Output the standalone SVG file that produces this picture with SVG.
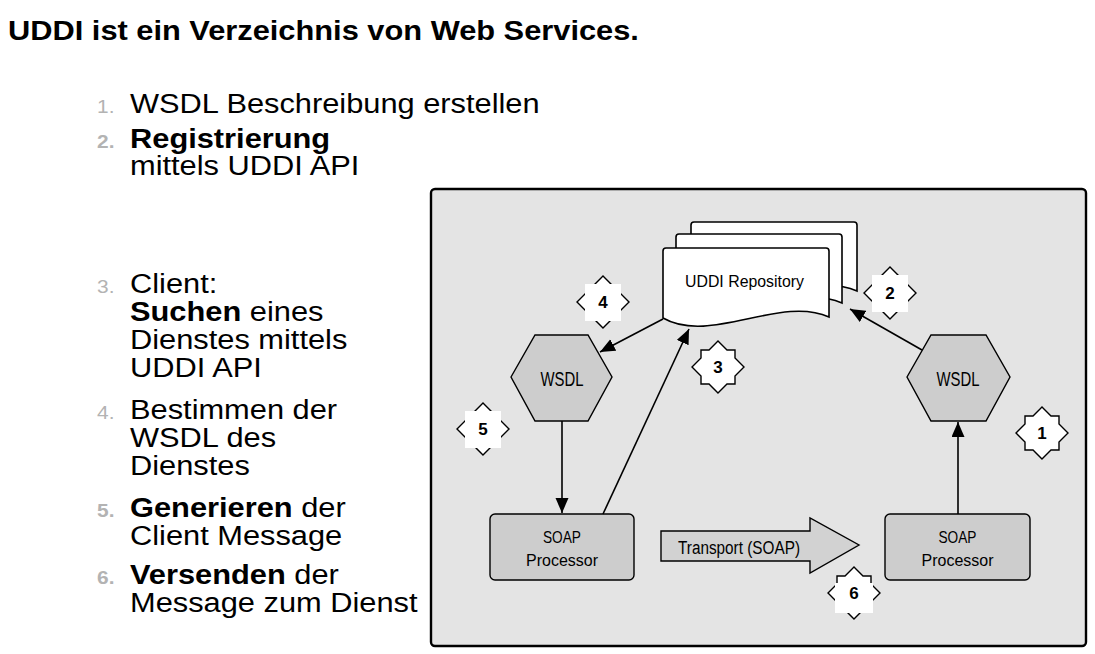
<svg xmlns="http://www.w3.org/2000/svg" xmlns:xlink="http://www.w3.org/1999/xlink" width="1095" height="654" viewBox="0 0 1095 654">
  <style>
    .txt { font-family: "Liberation Sans", Arial, sans-serif; font-size: 28px; fill: #000; }
    .b { font-weight: bold; }
    .num { font-family: "Liberation Sans", Arial, sans-serif; font-size: 19px; fill: #b3b3b3; }
    .dg { font-family: "Liberation Sans", Arial, sans-serif; fill: #000; text-anchor: middle; }
    .ln { stroke: #000; stroke-width: 1.6; fill: none; }
    .shape { fill: #cdcdcd; stroke: #000; stroke-width: 1.4; }
    .doc { fill: #fff; stroke: #000; stroke-width: 1.6; }
    .star { fill: #fff; stroke: #000; stroke-width: 1.4; }
    .starnum { font-family: "Liberation Sans", Arial, sans-serif; font-size: 17px; font-weight: bold; text-anchor: middle; fill: #000; }
  </style>
  <defs>
    <marker id="ah" markerUnits="userSpaceOnUse" markerWidth="16" markerHeight="14" refX="15" refY="6.5" orient="auto">
      <path d="M0,0 L15,6.5 L0,13 Z" fill="#000"/>
    </marker>
    <path id="starp" d="M0,-26 L9,-17 L17,-17 L17,-9 L26,0 L17,9 L17,17 L9,17 L0,26 L-9,17 L-17,17 L-17,9 L-26,0 L-17,-9 L-17,-17 L-9,-17 Z"/>
    <path id="docp" d="M663,318 L663,251 Q663,248 666,248 L826,248 Q829,248 829,251 L829,317 C780,295 710,345 663,318 Z"/>
  </defs>

  <rect width="1095" height="654" fill="#fff"/>

  <!-- left text -->
  <g id="text" transform="scale(1.1,1)">
    <text class="txt b" x="7.3" y="40">UDDI ist ein Verzeichnis von Web Services.</text>

    <text class="num" x="88.2" y="113">1.</text>
    <text class="txt" x="118.2" y="113">WSDL Beschreibung erstellen</text>

    <text class="num b" x="88.2" y="148">2.</text>
    <text class="txt" x="118.2" y="148"><tspan class="b">Registrierung</tspan></text>
    <text class="txt" x="118.2" y="175">mittels UDDI API</text>

    <text class="num" x="88.2" y="293">3.</text>
    <text class="txt" x="118.2" y="293">Client:</text>
    <text class="txt" x="118.2" y="321"><tspan class="b">Suchen</tspan> eines</text>
    <text class="txt" x="118.2" y="349">Dienstes mittels</text>
    <text class="txt" x="118.2" y="377">UDDI API</text>

    <text class="num" x="88.2" y="419">4.</text>
    <text class="txt" x="118.2" y="419">Bestimmen der</text>
    <text class="txt" x="118.2" y="447">WSDL des</text>
    <text class="txt" x="118.2" y="475">Dienstes</text>

    <text class="num b" x="88.2" y="517">5.</text>
    <text class="txt" x="118.2" y="517"><tspan class="b">Generieren</tspan> der</text>
    <text class="txt" x="118.2" y="545">Client Message</text>

    <text class="num b" x="88.2" y="584">6.</text>
    <text class="txt" x="118.2" y="584"><tspan class="b">Versenden</tspan> der</text>
    <text class="txt" x="118.2" y="612">Message zum Dienst</text>
  </g>

  <!-- frame -->
  <rect id="frame" x="431" y="189" width="655" height="457" rx="4" fill="#e4e4e4" stroke="#000" stroke-width="2.4"/>

  <!-- UDDI repository -->
  <g id="repo">
    <use xlink:href="#docp" href="#docp" class="doc" transform="translate(28,-26)"/>
    <use xlink:href="#docp" href="#docp" class="doc" transform="translate(13,-14)"/>
    <use xlink:href="#docp" href="#docp" class="doc"/>
    <text class="dg" x="744.5" y="287" font-size="17" textLength="119" lengthAdjust="spacingAndGlyphs">UDDI Repository</text>
  </g>

  <!-- WSDL hexagons -->
  <g id="wsdl-left">
    <polygon class="shape" points="511,377 535,335 588,335 612,377 588,421 535,421"/>
    <text class="dg" x="562" y="386" font-size="20" textLength="43" lengthAdjust="spacingAndGlyphs">WSDL</text>
  </g>
  <g id="wsdl-right">
    <polygon class="shape" points="907,377 931,335 986,335 1010,377 986,421 931,421"/>
    <text class="dg" x="958" y="386" font-size="20" textLength="43" lengthAdjust="spacingAndGlyphs">WSDL</text>
  </g>

  <!-- SOAP processors -->
  <g id="soap-left">
    <rect class="shape" x="490" y="514" width="144" height="66" rx="5"/>
    <text class="dg" x="562" y="543" font-size="17" textLength="38" lengthAdjust="spacingAndGlyphs">SOAP</text>
    <text class="dg" x="562" y="566" font-size="17" textLength="72" lengthAdjust="spacingAndGlyphs">Processor</text>
  </g>
  <g id="soap-right">
    <rect class="shape" x="885" y="514" width="145" height="66" rx="5"/>
    <text class="dg" x="957.5" y="543" font-size="17" textLength="38" lengthAdjust="spacingAndGlyphs">SOAP</text>
    <text class="dg" x="957.5" y="566" font-size="17" textLength="72" lengthAdjust="spacingAndGlyphs">Processor</text>
  </g>

  <!-- Transport block arrow -->
  <g id="transport">
    <polygon points="661,531 810,531 810,518 859,545 810,573 810,561 661,561" fill="#d2d2d2" stroke="#000" stroke-width="1.4"/>
    <text class="dg" x="739" y="554" font-size="18" textLength="122" lengthAdjust="spacingAndGlyphs">Transport (SOAP)</text>
  </g>

  <!-- connectors -->
  <g id="connectors">
    <line class="ln" x1="562" y1="421" x2="562" y2="513" marker-end="url(#ah)"/>
    <line class="ln" x1="958" y1="514" x2="958" y2="422" marker-end="url(#ah)"/>
    <line class="ln" x1="603" y1="514" x2="689" y2="329" marker-end="url(#ah)"/>
    <line class="ln" x1="663" y1="319" x2="600" y2="352" marker-end="url(#ah)"/>
    <line class="ln" x1="922" y1="350" x2="850" y2="309" marker-end="url(#ah)"/>
  </g>

  <!-- step stars -->
  <g id="star1">
    <use xlink:href="#starp" href="#starp" class="star" transform="translate(1042,433)"/>
    <text class="starnum" x="1042" y="439">1</text>
  </g>
  <g id="star2">
    <use xlink:href="#starp" href="#starp" class="star" transform="translate(890,293)"/>
    <rect x="872" y="275" width="36" height="37" fill="#fff"/>
    <text class="starnum" x="890" y="299">2</text>
  </g>
  <g id="star3">
    <use xlink:href="#starp" href="#starp" class="star" transform="translate(718,367)"/>
    <text class="starnum" x="718" y="373">3</text>
  </g>
  <g id="star4">
    <use xlink:href="#starp" href="#starp" class="star" transform="translate(603,302)"/>
    <rect x="585" y="284" width="36" height="37" fill="#fff"/>
    <text class="starnum" x="603" y="308">4</text>
  </g>
  <g id="star5">
    <use xlink:href="#starp" href="#starp" class="star" transform="translate(483,429)"/>
    <rect x="465" y="411" width="36" height="37" fill="#fff"/>
    <text class="starnum" x="483" y="435">5</text>
  </g>
  <g id="star6">
    <use xlink:href="#starp" href="#starp" class="star" transform="translate(854,593)"/>
    <rect x="835" y="583" width="38" height="30" fill="#fff"/>
    <text class="starnum" x="854" y="599">6</text>
  </g>
</svg>
